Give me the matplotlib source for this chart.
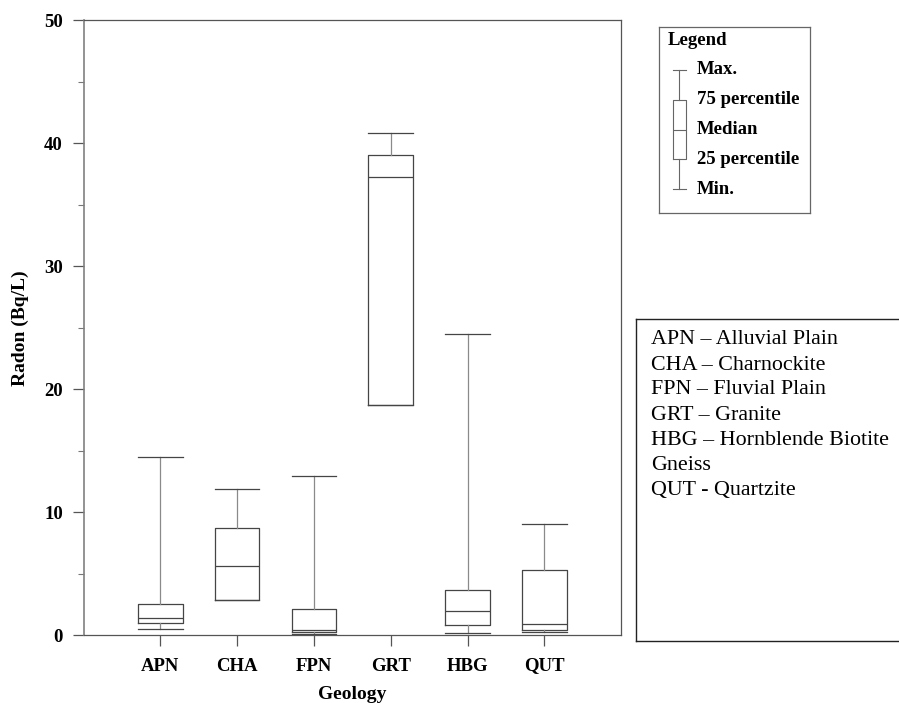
import matplotlib
matplotlib.use('Agg')
import matplotlib.pyplot as plt
from matplotlib.ticker import MultipleLocator

plt.rcParams['font.family'] = ['Liberation Serif', 'DejaVu Serif']

# box statistics (Bq/L)
geology = ['APN', 'CHA', 'FPN', 'GRT', 'HBG', 'QUT']
rn_min = [0.49, 2.87, 0.10, 18.7, 0.19, 0.27]
rn_q1 = [0.98, 2.87, 0.27, 18.7, 0.81, 0.41]
rn_med = [1.38, 5.63, 0.41, 37.3, 1.95, 0.89]
rn_q3 = [2.54, 8.75, 2.16, 39.05, 3.68, 5.28]
rn_max = [14.47, 11.9, 12.95, 40.8, 24.47, 9.05]

key_lines = ['APN \u2013 Alluvial Plain', 'CHA \u2013 Charnockite', 'FPN \u2013 Fluvial Plain',
             'GRT \u2013 Granite', 'HBG \u2013 Hornblende Biotite', 'Gneiss', 'QUT - Quartzite']
legend_labels = ['Min.', '25 percentile', 'Median', '75 percentile', 'Max.']

box_col = '#454545'
whisk_col = '#8a8a8a'

fig = plt.figure(figsize=(8.99, 7.03), dpi=100)
ax = fig.add_axes([0.0931, 0.0963, 0.5977, 0.8748])

stats = []
for i, g in enumerate(geology):
    stats.append(dict(label=g, whislo=rn_min[i], q1=rn_q1[i], med=rn_med[i],
                      q3=rn_q3[i], whishi=rn_max[i], fliers=[]))
ax.bxp(stats, positions=range(1, len(geology) + 1), widths=0.58, showfliers=False,
       boxprops=dict(color=box_col, lw=0.9),
       medianprops=dict(color=box_col, lw=0.9),
       whiskerprops=dict(color=whisk_col, lw=0.9),
       capprops=dict(color=box_col, lw=0.9), capwidths=0.58)

ax.set_xlim(0, 7)
ax.set_ylim(0, 50)
ax.yaxis.set_major_locator(MultipleLocator(10))
ax.yaxis.set_minor_locator(MultipleLocator(5))
ax.tick_params(axis='both', which='major', direction='out', length=8, width=0.9,
               color='#555555', labelsize=13.5, pad=7)
ax.tick_params(axis='y', which='minor', direction='out', length=4, width=0.8, color='#777777')
ax.tick_params(axis='x', pad=8)
for lab in ax.get_xticklabels() + ax.get_yticklabels():
    lab.set_fontweight('bold')
for s in ax.spines.values():
    s.set_color('#555555')
    s.set_linewidth(0.9)
ax.spines['left'].set_color('#808080')
ax.spines['left'].set_linewidth(1.2)
ax.set_xlabel('Geology', fontsize=14, fontweight='bold', labelpad=8)
ax.set_ylabel('Radon (Bq/L)', fontsize=14, fontweight='bold', labelpad=11)

# legend schematic
leg = fig.add_axes([659 / 899, 1 - 213 / 703, 151 / 899, 186 / 703])
leg.bxp([dict(whislo=0, q1=1, med=2, q3=3, whishi=4, fliers=[])], positions=[20.3],
        widths=12.4, showfliers=False, capwidths=12.4,
        boxprops=dict(color='#666666', lw=0.8), medianprops=dict(color='#666666', lw=0.8),
        whiskerprops=dict(color='#666666', lw=0.8), capprops=dict(color='#666666', lw=0.8))
leg.set_xlim(0, 151)
leg.set_ylim(-0.8, 5.44)
leg.set_xticks([])
leg.set_yticks([])
for s in leg.spines.values():
    s.set_color('#666666')
    s.set_linewidth(0.9)
leg.text(9, 5.0, 'Legend', fontsize=13.5, fontweight='bold', va='center', ha='left')
for lvl, lab in enumerate(legend_labels):
    leg.text(37.7, lvl, lab, fontsize=13.5, fontweight='bold', va='center', ha='left')

# abbreviation key box
key = fig.add_axes([636 / 899, 1 - 641 / 703, 0.32, 322 / 703])
key.set_xticks([])
key.set_yticks([])
for s in key.spines.values():
    s.set_color('#222222')
    s.set_linewidth(1.0)
for i, line in enumerate(key_lines):
    fig.text(650.7 / 899, 1 - (340 + 25 * i) / 703, line, fontsize=15.8,
             va='center', ha='left')

fig.savefig('out.png', dpi=100)
